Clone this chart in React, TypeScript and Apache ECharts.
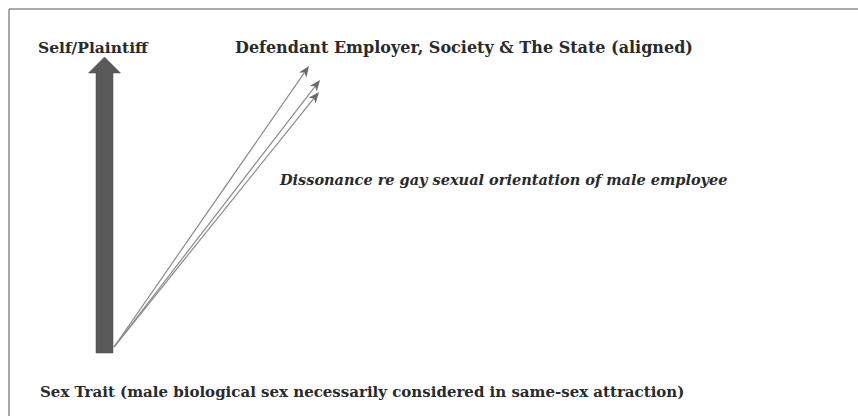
import React, { useEffect, useRef } from "react";
import * as echarts from "echarts";

// Diagram coordinates (x to the right, y downward), 858 x 416 canvas units
const thickArrows: number[][] = [[104.5, 353, 104.5, 57]];
const thinArrows: number[][] = [
  [114, 347, 309, 66],
  [114, 347, 320, 80],
  [114, 347, 319, 92],
];
const labelTexts: string[] = [
  "Self/Plaintiff",
  "Defendant Employer, Society & The State (aligned)",
  "Dissonance re gay sexual orientation of male employee",
  "Sex Trait (male biological sex necessarily considered in same-sex attraction)",
];
const labelPos: number[][] = [
  [38, 47],
  [235, 47],
  [280, 179],
  [40, 392],
];
const labelItalic: boolean[] = [false, false, true, false];
const labelSize: number[] = [15.5, 16, 14.5, 15];

export default function App() {
  const ref = useRef<HTMLDivElement>(null);
  useEffect(() => {
    document.body.style.margin = "0";
    const chart = echarts.init(ref.current!, undefined, { renderer: "svg" });
    chart.setOption({
      animation: false,
      backgroundColor: "#ffffff",
      grid: { left: 0, right: 0, top: 0, bottom: 0 },
      xAxis: { type: "value", min: 0, max: 858, show: false },
      yAxis: { type: "value", min: 0, max: 416, inverse: true, show: false },
      graphic: [
        { type: "line", shape: { x1: 9, y1: 9, x2: 858, y2: 9 }, style: { stroke: "#555", lineWidth: 1 } },
        { type: "line", shape: { x1: 9, y1: 9, x2: 9, y2: 416 }, style: { stroke: "#555", lineWidth: 1 } },
        ...labelTexts.map((t, i) => ({
          type: "text",
          x: labelPos[i][0],
          y: labelPos[i][1],
          style: {
            text: t,
            fontFamily: "DejaVu Serif",
            fontWeight: "bold",
            fontStyle: labelItalic[i] ? "italic" : "normal",
            fontSize: labelSize[i],
            fill: "#2a2a2a",
            verticalAlign: "middle",
            align: "left",
          },
        })),
      ],
      series: [
        {
          type: "custom",
          coordinateSystem: "cartesian2d",
          data: thickArrows,
          encode: { x: [0, 2], y: [1, 3] },
          renderItem: (_p: any, api: any) => {
            const p0 = api.coord([api.value(0), api.value(1)]);
            const p1 = api.coord([api.value(2), api.value(3)]);
            const dx = p1[0] - p0[0], dy = p1[1] - p0[1];
            const len = Math.hypot(dx, dy);
            const ux = dx / len, uy = dy / len;
            const nx = -uy, ny = ux;
            const hw = 8.5, headL = 16, headHW = 16;
            const bx = p1[0] - ux * headL, by = p1[1] - uy * headL;
            const points = [
              [p0[0] + nx * hw, p0[1] + ny * hw],
              [bx + nx * hw, by + ny * hw],
              [bx + nx * headHW, by + ny * headHW],
              [p1[0], p1[1]],
              [bx - nx * headHW, by - ny * headHW],
              [bx - nx * hw, by - ny * hw],
              [p0[0] - nx * hw, p0[1] - ny * hw],
            ];
            return { type: "polygon", shape: { points }, style: { fill: "#595959", stroke: "#4a4a4a", lineWidth: 0.5 } };
          },
        },
        {
          type: "custom",
          coordinateSystem: "cartesian2d",
          data: thinArrows,
          encode: { x: [0, 2], y: [1, 3] },
          renderItem: (_p: any, api: any) => {
            const p0 = api.coord([api.value(0), api.value(1)]);
            const p1 = api.coord([api.value(2), api.value(3)]);
            const dx = p1[0] - p0[0], dy = p1[1] - p0[1];
            const len = Math.hypot(dx, dy);
            const ux = dx / len, uy = dy / len;
            const nx = -uy, ny = ux;
            const headL = 11, headHW = 4.5, notch = 3;
            const bx = p1[0] - ux * headL, by = p1[1] - uy * headL;
            const nxp = p1[0] - ux * (headL - notch), nyp = p1[1] - uy * (headL - notch);
            return {
              type: "group",
              children: [
                {
                  type: "line",
                  shape: { x1: p0[0], y1: p0[1], x2: nxp, y2: nyp },
                  style: { stroke: "#8a8a8a", lineWidth: 1.2 },
                },
                {
                  type: "polygon",
                  shape: {
                    points: [
                      [p1[0], p1[1]],
                      [bx + nx * headHW, by + ny * headHW],
                      [nxp, nyp],
                      [bx - nx * headHW, by - ny * headHW],
                    ],
                  },
                  style: { fill: "#6a6a6a" },
                },
              ],
            };
          },
        },
      ],
    });
    return () => chart.dispose();
  }, []);
  return <div ref={ref} style={{ width: 858, height: 416 }} />;
}
